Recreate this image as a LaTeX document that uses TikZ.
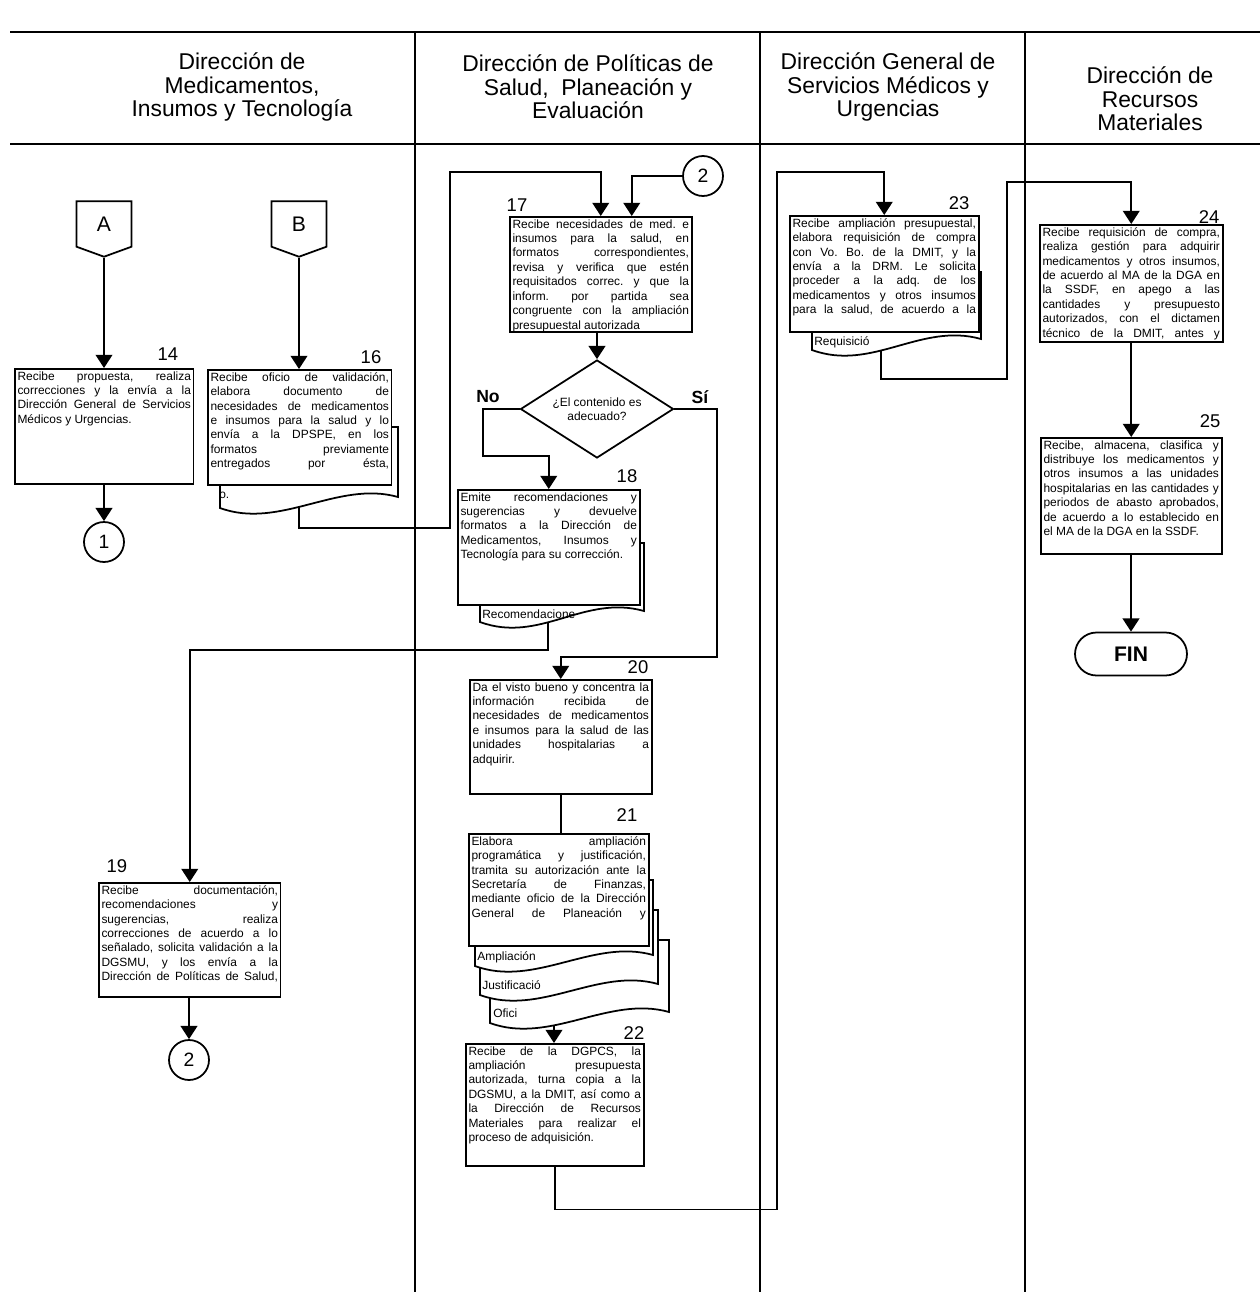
\documentclass[tikz,border=0pt]{standalone}
\usepackage{fontspec}
\setmainfont{Liberation Sans}
\usepackage{tikz}
\usetikzlibrary{arrows.meta,shapes.geometric,shapes.symbols,positioning,calc}
\pgfdeclarelayer{background}
\pgfsetlayers{background,main}
\tikzstyle{arrow} = [line width=1pt,->,>={Triangle[length=7.5pt,width=9.5pt]}]
\tikzstyle{line} = [line width=1pt]
\tikzstyle{lane} = [line width=1.1pt]
\tikzstyle{proc} = [rectangle, draw, fill=white, line width=1pt, inner sep=1.5pt, anchor=north west]
\tikzstyle{conn} = [circle, draw, fill=white, line width=1pt, minimum size=0.8cm, inner sep=0pt, font=\fontsize{11}{12}\selectfont]
\tikzstyle{offpage} = [signal, signal to=south, signal pointer angle=140, draw, fill=white, line width=1pt, minimum width=1.1cm, minimum height=0.96cm, inner sep=0pt, font=\fontsize{12}{14}\selectfont]
\tikzstyle{decision} = [diamond, aspect=1.56, draw, fill=white, line width=1pt, minimum width=3.06cm, minimum height=1.96cm, inner sep=0pt, align=center, font=\fontsize{6.8}{8.2}\selectfont]
\tikzstyle{term} = [rectangle, rounded corners=0.43cm, draw, fill=white, line width=1pt, minimum width=2.24cm, minimum height=0.86cm, font=\bfseries\fontsize{12}{14}\selectfont]
\tikzstyle{num} = [inner sep=0pt, font=\fontsize{10.5}{12}\selectfont]
\tikzstyle{answer} = [inner sep=0pt, font=\bfseries\fontsize{10}{12}\selectfont]
\tikzstyle{header} = [align=center, font=\fontsize{13}{13.4}\selectfont]
\tikzstyle{doctext} = [anchor=west, inner sep=0pt, font=\fontsize{6.8}{8.2}\selectfont]

\newcommand{\boxfont}{\fontsize{6.8}{8.2}\selectfont\frenchspacing\tolerance=10000\hbadness=10000\hyphenpenalty=10000\relax}
\newcommand{\proctext}[3]{\parbox[c][#2][t]{#1}{\boxfont #3}}
\newcommand{\fullline}{\parfillskip=0pt\relax}
% document symbol: left, right, top, bottom-left
\newcommand{\docshape}[4]{\filldraw[line width=1pt, fill=white] (#1,#3) -- (#2,#3) -- (#2,#4-11) .. controls (#2-60,#4-28) and (#1+60,#4+22) .. (#1,#4) -- cycle;}

\begin{document}
\begin{tikzpicture}[x=0.02cm, y=-0.02cm]
\useasboundingbox (0,0) rectangle (1260,1298);

% Lane headers
\node (h1) [header] at (242,87) {Dirección de\\Medicamentos,\\Insumos y Tecnología};
\node (h2) [header] at (588,87) {Dirección de Políticas de\\Salud, \ Planeación y\\Evaluación};
\node (h3) [header] at (888,87) {Dirección General de\\Servicios Médicos y\\Urgencias};
\node (h4) [header] at (1150,99) {Dirección de\\Recursos\\Materiales};

% Document symbols behind the boxes
\docshape{220}{398}{427}{508}
\docshape{480}{644}{543}{622}
\docshape{812}{981}{272}{350}
\docshape{490}{669}{940}{1023}
\docshape{480}{658}{910}{995}
\docshape{475}{653}{880}{966}
\node (t16) [doctext] at (219,495) {o.};
\node (t18) [doctext] at (482,614) {Recomendacione};
\node (t23) [doctext] at (814,342) {Requisició};
\node (t21a) [doctext] at (477,957) {Ampliación};
\node (t21b) [doctext] at (482,985) {Justificació};
\node (t21c) [doctext] at (493,1013) {Ofici};
\coordinate (d16b) at (299,500);
\coordinate (d18b) at (548,615);
\coordinate (d23b) at (881,340);
\coordinate (d21b) at (554,1012);

% Lane 1
\node (offA) [offpage] at (104,224) {A};
\node (offB) [offpage] at (299,224) {B};
\node (b14) [proc] at (14,368) {\proctext{3.47cm}{2.19cm}{Recibe propuesta, realiza\linebreak correcciones y la envía a la\linebreak Dirección General de Servicios\linebreak Médicos y Urgencias.}};
\node (b16) [proc] at (207,369) {\proctext{3.57cm}{2.19cm}{Recibe oficio de validación,\linebreak elabora documento de\linebreak necesidades de medicamentos\linebreak e insumos para la salud y lo\linebreak envía a la DPSPE, en los\linebreak formatos previamente\linebreak entregados por ésta,\fullline}};
\node (c1) [conn] at (104,542) {1};
\node (b19) [proc] at (98,882) {\proctext{3.53cm}{2.17cm}{Recibe documentación,\linebreak recomendaciones y\linebreak sugerencias, realiza\linebreak correcciones de acuerdo a lo\linebreak señalado, solicita validación a la\linebreak DGSMU, y los envía a la\linebreak Dirección de Políticas de Salud,\fullline}};
\node (c2b) [conn] at (189,1060) {2};

% Lane 2
\node (c2a) [conn] at (703,176) {2};
\node (b17) [proc] at (509,216) {\proctext{3.53cm}{2.19cm}{Recibe necesidades de med. e\linebreak insumos para la salud, en\linebreak formatos correspondientes,\linebreak revisa y verifica que estén\linebreak requisitados correc. y que la\linebreak inform. por partida sea\linebreak congruente con la ampliación\linebreak presupuestal autorizada}};
\node (dec) [decision] at (597,409) {¿El contenido es\\adecuado?};
\node (no) [answer] at (488,397) {No};
\node (si) [answer] at (700,397) {Sí};
\node (b18) [proc] at (457,489) {\proctext{3.53cm}{2.19cm}{Emite recomendaciones y\linebreak sugerencias y devuelve\linebreak formatos a la Dirección de\linebreak Medicamentos, Insumos y\linebreak Tecnología para su corrección.}};
\node (b20) [proc] at (469,679) {\proctext{3.53cm}{2.17cm}{Da el visto bueno y concentra la\linebreak información recibida de\linebreak necesidades de medicamentos\linebreak e insumos para la salud de las\linebreak unidades hospitalarias a\linebreak adquirir.}};
\node (b21) [proc] at (468,833) {\proctext{3.49cm}{2.13cm}{Elabora ampliación\linebreak programática y justificación,\linebreak tramita su autorización ante la\linebreak Secretaría de Finanzas,\linebreak mediante oficio de la Dirección\linebreak General de Planeación y\fullline}};
\node (b22) [proc] at (465,1043) {\proctext{3.45cm}{2.33cm}{Recibe de la DGPCS, la\linebreak ampliación presupuesta\linebreak autorizada, turna copia a la\linebreak DGSMU, a la DMIT, así como a\linebreak la Dirección de Recursos\linebreak Materiales para realizar el\linebreak proceso de adquisición.}};

% Lane 3
\node (b23) [proc] at (789,215) {\proctext{3.67cm}{2.21cm}{Recibe ampliación presupuestal,\linebreak elabora requisición de compra\linebreak con Vo. Bo. de la DMIT, y la\linebreak envía a la DRM. Le solicita\linebreak proceder a la adq. de los\linebreak medicamentos y otros insumos\linebreak para la salud, de acuerdo a la\fullline}};

% Lane 4
\node (b24) [proc] at (1039,224) {\proctext{3.55cm}{2.23cm}{Recibe requisición de compra,\linebreak realiza gestión para adquirir\linebreak medicamentos y otros insumos,\linebreak de acuerdo al MA de la DGA en\linebreak la SSDF, en apego a las\linebreak cantidades y presupuesto\linebreak autorizados, con el dictamen\linebreak técnico de la DMIT, antes y\fullline}};
\node (b25) [proc] at (1040,437) {\proctext{3.51cm}{2.21cm}{Recibe, almacena, clasifica y\linebreak distribuye los medicamentos y\linebreak otros insumos a las unidades\linebreak hospitalarias en las cantidades y\linebreak periodos de abasto aprobados,\linebreak de acuerdo a lo establecido en\linebreak el MA de la DGA en la SSDF.}};
\node (fin) [term] at (1131,654) {FIN};

% Step numbers
\node (n14) [num] at (168,354) {14};
\node (n16) [num] at (371,357) {16};
\node (n17) [num] at (517,205) {17};
\node (n18) [num] at (627,476) {18};
\node (n19) [num] at (117,866) {19};
\node (n20) [num] at (638,667) {20};
\node (n21) [num] at (627,815) {21};
\node (n22) [num] at (634,1033) {22};
\node (n23) [num] at (959,203) {23};
\node (n24) [num] at (1209,217) {24};
\node (n25) [num] at (1210,421) {25};

\begin{pgfonlayer}{background}
% Swimlanes
\draw[lane] (10,32) -- (1260,32);
\draw[lane] (10,144) -- (1260,144);
\draw[lane] (415,32) -- (415,1292);
\draw[lane] (760,32) -- (760,1292);
\draw[lane] (1025,32) -- (1025,1292);

% Flow
\draw[arrow] (offA.south) -- (offA.south |- b14.north);
\draw[arrow] (b14.south -| c1) -- (c1.north);
\draw[arrow] (offB.south) -- (offB.south |- b16.north);
\draw[arrow] (d16b) -- ++(0,28) -| (450,172) -| (b17.north);
\draw[arrow] (c2a.west) -| ($(b17.north)+(31,0)$);
\draw[arrow] (b17.south -| dec.north) -- (dec.north);
\draw[arrow] (dec.west) -- ++(-37,0) |- ($(b18.north)+(0,-33)$) -- (b18.north);
\draw[arrow] (dec.east) -- ++(43,0) |- ($(b20.north)+(0,-22)$) -- (b20.north);
\draw[arrow] (d18b) -- ++(0,35) -| (b19.north);
\draw[arrow] (b19.south -| c2b) -- (c2b.north);
\draw[line] (b20.south) -- (b20.south |- b21.north);
\draw[arrow] (d21b) -- (d21b |- b22.north);
\draw[arrow] (b22.south) -- ++(0,43) -| (777,172) -| (b23.north);
\draw[arrow] (d23b) -- ++(0,39) -| (1007,182) -| (b24.north);
\draw[arrow] (b24.south) -- (b24.south |- b25.north);
\draw[arrow] (b25.south -| fin.north) -- (fin.north);
\end{pgfonlayer}
\end{tikzpicture}
\end{document}
